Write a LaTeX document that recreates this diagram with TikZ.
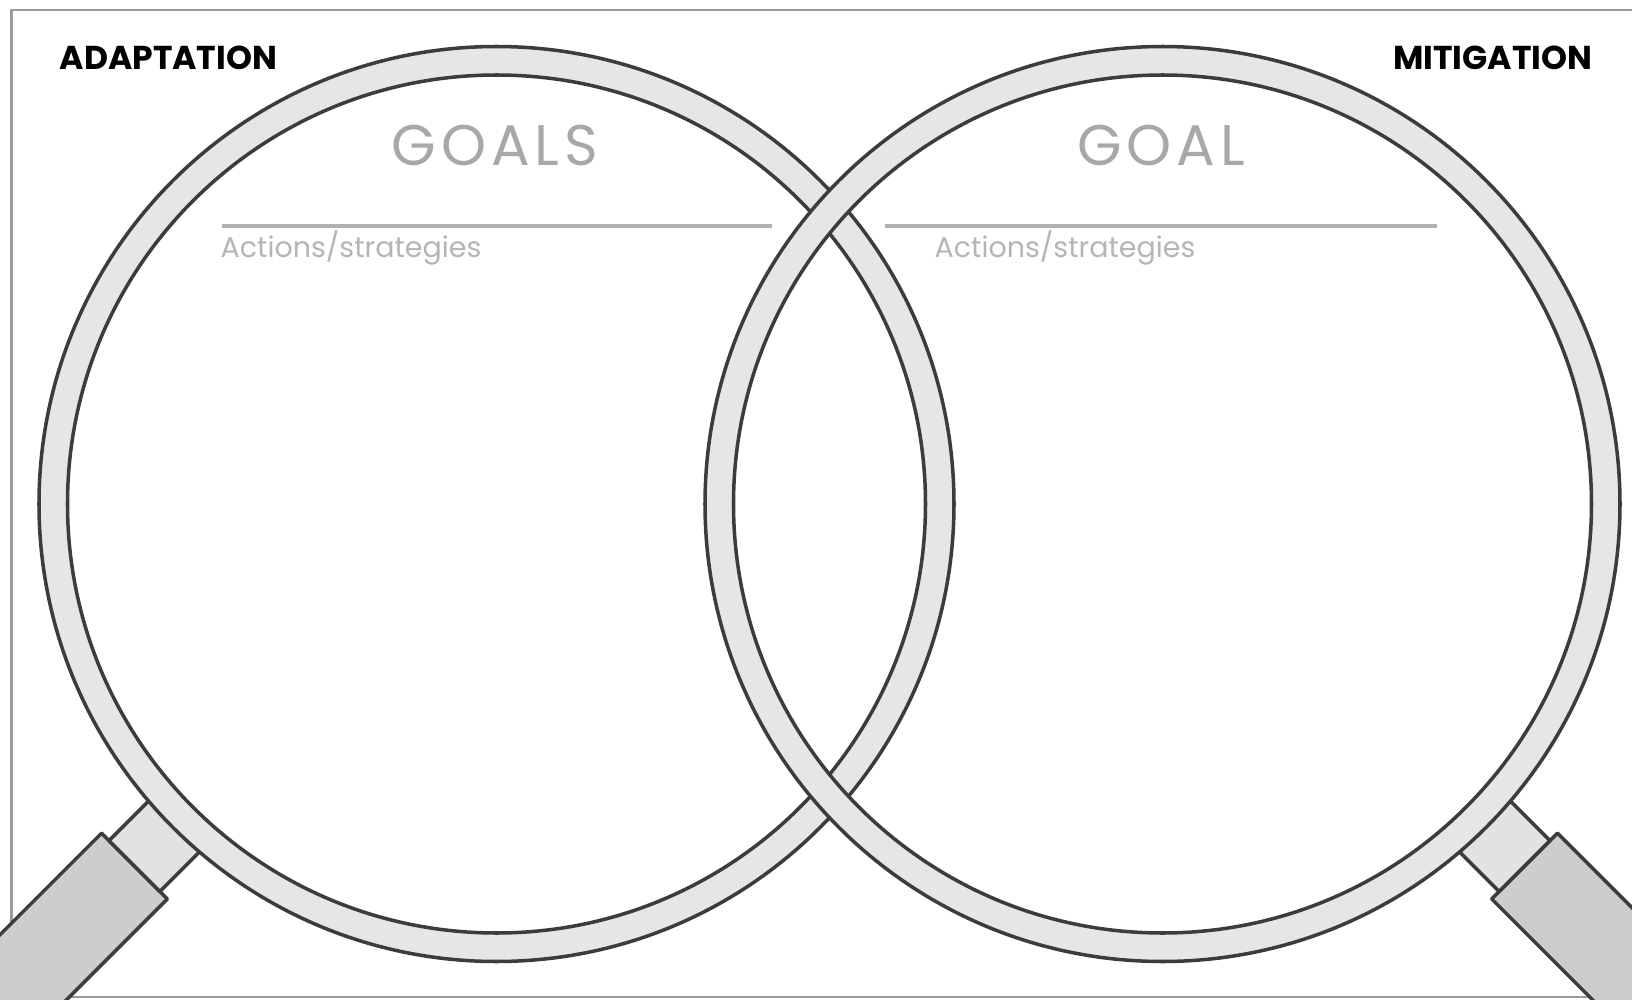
\documentclass[tikz,border=0pt]{standalone}
\usepackage{fontspec}
\setmainfont{Poppins}
\usepackage{xcolor}
\definecolor{ringline}{HTML}{3C3C3C}
\definecolor{ringband}{HTML}{E6E6E6}
\definecolor{collarfill}{HTML}{E2E2E2}
\definecolor{gripfill}{HTML}{CDCDCD}
\definecolor{framegray}{HTML}{9A9A9A}
\definecolor{softtext}{HTML}{A8A8A8}
\usetikzlibrary{positioning,calc}

\begin{document}
\begin{tikzpicture}[x=0.01cm, y=-0.01cm,
    ring/.style={fill=ringband, draw=ringline, line width=1pt, even odd rule},
    collar/.style={fill=collarfill, draw=ringline, line width=1pt, line join=round},
    grip/.style={fill=gripfill, draw=ringline, line width=1pt, line join=round},
    rulegray/.style={draw=softtext!90, line width=1.1pt},
    heading/.style={font=\bfseries\fontsize{9.4}{11}\selectfont, inner sep=0pt},
    goaltext/.style={font=\fontsize{16.3}{19}\selectfont\addfontfeatures{LetterSpace=8.5},
      text=softtext, inner sep=0pt},
    actiontext/.style={font=\fontsize{8.1}{9.5}\selectfont, text=softtext!85, inner sep=0pt}]
  \useasboundingbox (0,0) rectangle (1632,1000);
  \clip (0,0) rectangle (1632,1000);
  % frame, runs off the right edge
  \draw[draw=framegray, line width=0.85pt] (11.7,10) rectangle (1700,997);
  \coordinate (lc) at (496.5,504);
  \coordinate (rc) at (1162.5,504);
  % handles first, the rings go over them
  \begin{scope}[shift={(lc)}, rotate=225]
    \filldraw[grip] (512,-46.5) rectangle (900,46.5);
    \filldraw[collar] (440,-36) rectangle (512,36);
  \end{scope}
  \begin{scope}[shift={(rc)}, rotate=-45]
    \filldraw[grip] (512,-46.5) rectangle (900,46.5);
    \filldraw[collar] (440,-36) rectangle (512,36);
  \end{scope}
  % the two lenses, right one on top
  \filldraw[ring] (lc) circle[radius=457.5] (lc) circle[radius=429];
  \filldraw[ring] (rc) circle[radius=457.5] (rc) circle[radius=429];
  % labels
  \node[heading, anchor=base west] (adapt) at (59,70) {ADAPTATION};
  \node[heading, anchor=base east] (mitig) at (1593,70) {MITIGATION};
  \node[goaltext, anchor=base] (goalL) at (495,165) {GOALS};
  \node[goaltext, anchor=base] (goalR) at (1161,165) {GOAL};
  \coordinate (ruleLa) at (222,226);
  \coordinate (ruleLb) at (772,226);
  \coordinate (ruleRa) at (885,226);
  \coordinate (ruleRb) at (1437,226);
  \draw[rulegray] (ruleLa) -- (ruleLb);
  \draw[rulegray] (ruleRa) -- (ruleRb);
  \node[actiontext, anchor=base west] (actL) at (220,258) {Actions/strategies};
  \node[actiontext, anchor=base west] (actR) at (934,258) {Actions/strategies};
\end{tikzpicture}
\end{document}
